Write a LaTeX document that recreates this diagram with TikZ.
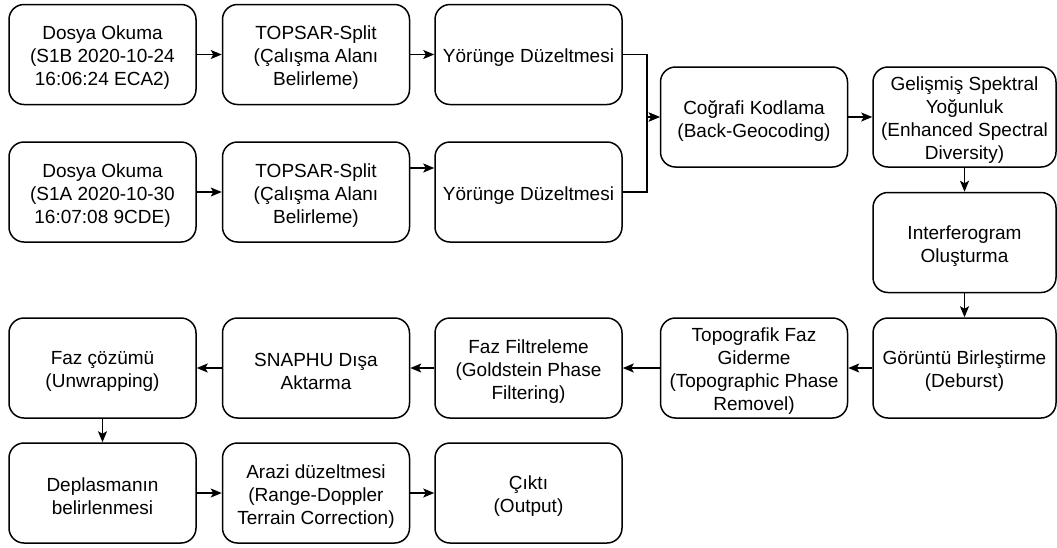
\documentclass[tikz,border=0pt]{standalone}
\usepackage{fontspec}
\setmainfont{Liberation Sans}
\usetikzlibrary{arrows.meta}
\begin{document}
\begin{tikzpicture}[x=1pt,y=-1pt,
  box/.style={draw=black, line width=1.5pt, rounded corners=15pt, fill=white,
    minimum width=187pt, minimum height=100pt, inner sep=0pt},
  txt/.style={align=center, inner sep=0pt, yshift=-3.5pt,
    font=\fontsize{19}{23}\selectfont},
  conn/.style={draw=black, line width=1.4pt,
    -{Stealth[length=11pt,width=9pt,inset=2.5pt]}}]
\useasboundingbox (0,0) rectangle (1057,547);
% row 1
\node[box, label={[txt]center:{Dosya Okuma\\(S1B 2020-10-24\\16:06:24 ECA2)}}] (d1) at (102.5,54.5) {};
\node[box, label={[txt]center:{TOPSAR-Split\\(Çalışma Alanı\\Belirleme)}}] (t1) at (316,54.5) {};
\node[box, label={[txt]center:{Yörünge Düzeltmesi}}] (y1) at (528.5,54.5) {};
% row 2
\node[box, label={[txt]center:{Dosya Okuma\\(S1A 2020-10-30\\16:07:08 9CDE)}}] (d2) at (102.5,192) {};
\node[box, label={[txt]center:{TOPSAR-Split\\(Çalışma Alanı\\Belirleme)}}] (t2) at (316,192) {};
\node[box, label={[txt]center:{Yörünge Düzeltmesi}}] (y2) at (528.5,192) {};
% right column
\node[box, label={[txt]center:{Coğrafi Kodlama\\(Back-Geocoding)}}] (cg) at (754,117) {};
\node[box, minimum width=183pt, label={[txt]center:{Gelişmiş Spektral\\Yoğunluk\\(Enhanced Spectral\\Diversity)}}] (gs) at (964.5,117) {};
\node[box, minimum width=183pt, label={[txt]center:{Interferogram\\Oluşturma}}] (io) at (964.5,242.5) {};
% row 3
\node[box, minimum width=183pt, label={[txt]center:{Görüntü Birleştirme\\(Deburst)}}] (gb) at (964.5,368) {};
\node[box, label={[txt]center:{Topografik Faz\\Giderme\\(Topographic Phase\\Removel)}}] (tf) at (754,368) {};
\node[box, label={[txt]center:{Faz Filtreleme\\(Goldstein Phase\\Filtering)}}] (ff) at (528.5,368) {};
\node[box, label={[txt]center:{SNAPHU Dışa\\Aktarma}}] (sn) at (316,368) {};
\node[box, label={[txt]center:{Faz çözümü\\(Unwrapping)}}] (fc) at (102.5,368) {};
% row 4
\node[box, label={[txt]center:{Deplasmanın\\belirlenmesi}}] (dp) at (102.5,493) {};
\node[box, label={[txt]center:{Arazi düzeltmesi\\(Range-Doppler\\Terrain Correction)}}] (ad) at (316,493) {};
\node[box, label={[txt]center:{Çıktı\\(Output)}}] (ck) at (528.5,493) {};
% connectors
\coordinate (t2out) at ([yshift=24pt]t2.east);
\draw[conn] (d1) -- (t1);
\draw[conn] (t1) -- (y1);
\draw[conn] (d2) -- (t2);
\draw[conn] (t2out) -- (t2out -| y2.west);
\draw[conn] (y1.east) -- (647,54.5) |- (cg.west);
\draw[conn] (y2.east) -- (647,192) |- (cg.west);
\draw[conn] (cg) -- (gs);
\draw[conn] (gs) -- (io);
\draw[conn] (io) -- (gb);
\draw[conn] (gb) -- (tf);
\draw[conn] (tf) -- (ff);
\draw[conn] (ff) -- (sn);
\draw[conn] (sn) -- (fc);
\draw[conn] (fc) -- (dp);
\draw[conn] (dp) -- (ad);
\draw[conn] (ad) -- (ck);
\end{tikzpicture}
\end{document}
